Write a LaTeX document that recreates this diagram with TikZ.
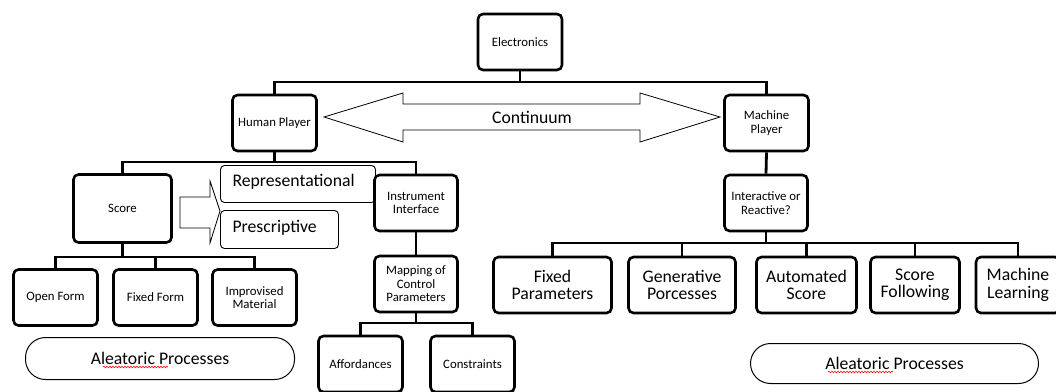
\documentclass[tikz,border=0pt]{standalone}
\usepackage{fontspec}
\setmainfont{Carlito}
\usetikzlibrary{decorations.pathmorphing}
\newcommand\fsmall{\fontsize{12.8}{13.6}\selectfont}
\newcommand\flarge{\fontsize{17.7}{17.5}\selectfont}
\tikzset{
  box/.style={draw, line width=2.6pt, rounded corners=5pt, align=center, font=\fsmall, inner sep=1pt},
  bigbox/.style={box, font=\flarge},
  conn/.style={line width=2.8pt},
  thinbox/.style={draw, line width=0.9pt, rounded corners=4pt, font=\flarge, anchor=center,
     text height=11.4pt, text depth=6pt, inner xsep=12pt},
  pill/.style={draw, line width=1pt, rounded corners=20pt, font=\flarge},
  blockarrow/.style={draw, line width=0.8pt, fill=white},
  squig/.style={draw=red, line width=0.6pt, decorate, decoration={snake, amplitude=0.8pt, segment length=3pt}}
}
\begin{document}
\begin{tikzpicture}[x=1pt, y=-1pt]
\useasboundingbox (0,0) rectangle (1056,391);
% top level
\node[box, minimum width=84, minimum height=56] (elec) at (520,42) {Electronics};
\node[box, minimum width=84, minimum height=56] (human) at (274.5,123) {Human Player};
\node[box, minimum width=84, minimum height=56] (machine) at (766.5,123) {Machine\\Player};
% human subtree
\node[box, minimum width=98, minimum height=68] (score) at (122.5,208.5) {Score};
\node[box, minimum width=83, minimum height=56] (instr) at (416,203) {Instrument\\Interface};
\node[box, minimum width=83, minimum height=56] (mapping) at (416,284) {Mapping of\\Control\\Parameters};
\node[box, minimum width=84, minimum height=56] (open) at (55.5,297.5) {Open Form};
\node[box, minimum width=84, minimum height=56] (fixedform) at (155.5,297.5) {Fixed Form};
\node[box, minimum width=84, minimum height=56] (improv) at (254.5,297.5) {Improvised\\Material};
\node[box, minimum width=84, minimum height=56] (afford) at (360.5,364) {Affordances};
\node[box, minimum width=84, minimum height=56] (constr) at (472.5,364) {Constraints};
% representational / prescriptive
\node[thinbox, minimum width=155, minimum height=37, align=left, text width=131pt] (repr) at (298,184) {Representational};
\node[thinbox, minimum width=118, minimum height=38, align=left, text width=94pt] (presc) at (279.5,229.5) {Prescriptive};
% machine subtree
\node[box, minimum width=83, minimum height=56] (interact) at (766,203) {Interactive or\\Reactive?};
\node[bigbox, minimum width=118, minimum height=56] (fixedp) at (552.5,285) {Fixed\\Parameters};
\node[bigbox, minimum width=107, minimum height=56] (gen) at (682,285) {Generative\\Porcesses};
\node[bigbox, minimum width=100, minimum height=56] (auto) at (806.5,285) {Automated\\Score};
\node[bigbox, minimum width=89, minimum height=56] (follow) at (915,285) {Score\\Following};
\node[bigbox, minimum width=84, minimum height=56] (learn) at (1018,285) {Machine\\Learning};
% aleatoric pills
\node[pill, minimum width=269, minimum height=42] (al1) at (160,358.5) {Aleatoric Processes};
\node[pill, minimum width=288, minimum height=40] (al2) at (894.5,363.5) {Aleatoric Processes};
\draw[squig] ([shift={(-57,8.5)}]al1.center) -- ++(65,0);
\draw[squig] ([shift={(-66.5,8.5)}]al2.center) -- ++(65,0);
% connectors
\coordinate (b1) at (520,82);
\draw[conn] (elec.south) -- (b1);
\draw[conn] (human.north) |- (b1) -| (machine.north);
\coordinate (b2) at (274.5,162);
\draw[conn] (human.south) -- (b2);
\draw[conn] (score.north) |- (b2) -| (instr.north);
\coordinate (b3) at (122.5,257);
\draw[conn] (score.south) -- (b3);
\draw[conn] (open.north) |- (b3) -| (improv.north);
\draw[conn] (fixedform.north) -- (fixedform.north |- b3);
\draw[conn] (instr.south) -- (mapping.north);
\coordinate (b4) at (416,323);
\draw[conn] (mapping.south) -- (b4);
\draw[conn] (afford.north) |- (b4) -| (constr.north);
\draw[conn] (machine.south) -- (interact.north);
\coordinate (b5) at (766,243);
\draw[conn] (interact.south) -- (b5);
\draw[conn] (fixedp.north) |- (b5) -| (learn.north);
\draw[conn] (gen.north) -- (gen.north |- b5);
\draw[conn] (auto.north) -- (auto.north |- b5);
\draw[conn] (follow.north) -- (follow.north |- b5);
% continuum double arrow
\draw[blockarrow] (324,117) -- (403,93) -- (403,104) -- (640,104) -- (640,93) -- (720,117)
  -- (640,142) -- (640,130) -- (403,130) -- (403,142) -- cycle;
\node[font=\flarge, inner sep=0pt] (cont) at (532,117) {Continuum};
% score block arrow
\draw[blockarrow] (180,197) -- (210,197) -- (210,181) -- (220,211) -- (210,243) -- (210,228) -- (180,228) -- cycle;
\end{tikzpicture}
\end{document}
